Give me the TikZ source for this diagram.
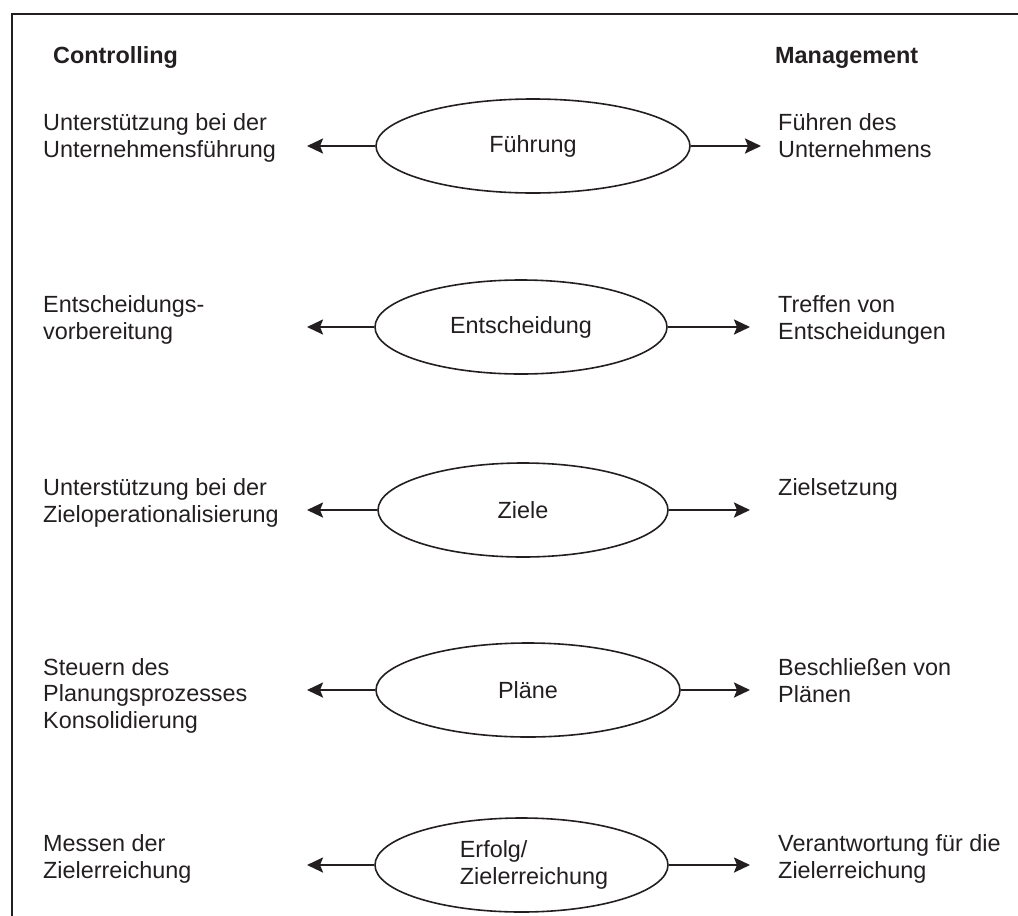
\documentclass[tikz,border=0pt]{standalone}
\usepackage{fontspec}
\setmainfont{Liberation Sans}
\usetikzlibrary{shapes.geometric,arrows.meta}
\definecolor{ink}{RGB}{35,31,32}
\begin{document}
\begin{tikzpicture}[x=1pt,y=-1pt,
  txt/.style={text=ink, font=\fontsize{23.4}{26.5}\selectfont, align=left, inner sep=0pt},
  head/.style={txt, font=\fontsize{23.4}{26.5}\selectfont\bfseries},
  topic/.style={draw=ink, line width=1.6pt, ellipse, inner sep=0pt, minimum height=94pt, txt},
  link/.style={draw=ink, line width=2.4pt, -{Stealth[length=16pt,width=15pt,inset=3pt]}}
]
\useasboundingbox (0,0) rectangle (1018,916);
\clip (0,0) rectangle (1018,916);

% frame
\draw[ink, line width=2pt] (12,930) -- (12,14) -- (1030,14);

% column headings
\node[head, anchor=base west] (hc) at (53,63) {Controlling};
\node[head, anchor=base west] (hm) at (775,63) {Management};

% central topics
\node[topic, minimum width=314pt] (e1) at (533,146) {Führung};
\node[topic, minimum width=292pt] (e2) at (521,327) {Entscheidung};
\node[topic, minimum width=290pt] (e3) at (523,510) {Ziele};
\node[topic, minimum width=304pt] (e4) at (528,690) {Pläne};
\node[topic, minimum width=293pt] (e5) at (521.5,865)
  {\hspace*{25pt}Erfolg/\\\hspace*{25pt}Zielerreichung};

% controlling side (anchor at the baseline of the last line)
\node[txt, anchor=base west] (c1) at (43,157) {Unterstützung bei der\\Unternehmensführung};
\node[txt, anchor=base west] (c2) at (43,339) {Entscheidungs-\\vorbereitung};
\node[txt, anchor=base west] (c3) at (43,522) {Unterstützung bei der\\Zieloperationalisierung};
\node[txt, anchor=base west] (c4) at (43,728) {Steuern des\\Planungsprozesses\\Konsolidierung};
\node[txt, anchor=base west] (c5) at (43,878) {Messen der\\Zielerreichung};

% management side
\node[txt, anchor=base west] (m1) at (778,157) {Führen des\\Unternehmens};
\node[txt, anchor=base west] (m2) at (778,339) {Treffen von\\Entscheidungen};
\node[txt, anchor=base west] (m3) at (778,495) {Zielsetzung};
\node[txt, anchor=base west] (m4) at (778,702) {Beschließen von\\Plänen};
\node[txt, anchor=base west] (m5) at (778,878) {Verantwortung für die\\Zielerreichung};

% arrow ends
\coordinate (l1) at (307,146);
\coordinate (l2) at (307,327);
\coordinate (l3) at (307,510);
\coordinate (l4) at (307,690);
\coordinate (l5) at (307,865);
\coordinate (r1) at (761,146);
\coordinate (r2) at (750,327);
\coordinate (r3) at (750,510);
\coordinate (r4) at (750,690);
\coordinate (r5) at (750,865);

\foreach \i in {1,...,5}{
  \draw[link] (e\i.west) -- (l\i);
  \draw[link] (e\i.east) -- (r\i);
}
\end{tikzpicture}
\end{document}
